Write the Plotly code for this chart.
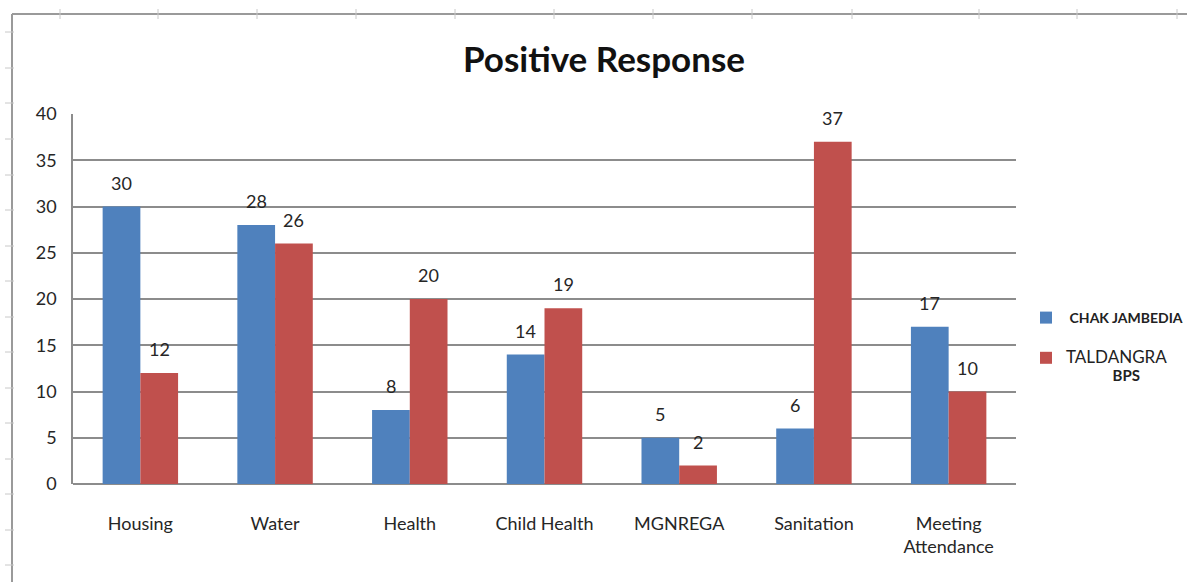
import plotly.graph_objects as go

# Survey results: number of positive responses per theme
categories = ["Housing", "Water", "Health", "Child Health", "MGNREGA", "Sanitation", "Meeting<br>Attendance"]
chak_jambedia = [30, 28, 8, 14, 5, 6, 17]
taldangra_bps = [12, 26, 20, 19, 2, 37, 10]
y_ticks = [0, 5, 10, 15, 20, 25, 30, 35, 40]

BLUE = "#4F81BD"
RED = "#C0504D"
GRID = "#8C8C8C"
FONT = "Lato, 'Open Sans', sans-serif"

W, H = 1187, 582
L, R, T, B = 73, 171, 114, 98
PW, PH = W - L - R, H - T - B


def px_x(px):
    return (px - L) / PW


def px_y(py):
    return (H - B - py) / PH


fig = go.Figure()
fig.add_trace(go.Bar(name="\u00a0<b>CHAK JAMBEDIA</b>", x=categories, y=chak_jambedia,
                     marker=dict(color=BLUE, line=dict(width=0)), legendgroup="a"))
fig.add_trace(go.Bar(name="<span style='font-size:17px'>TALDANGRA</span><br>"
                          "\u00a0\u00a0\u00a0\u00a0\u00a0\u00a0\u00a0\u00a0\u00a0\u00a0\u00a0\u00a0\u00a0"
                          "<span style='font-size:15px'><b>BPS</b></span>",
                     x=categories, y=taldangra_bps,
                     marker=dict(color=RED, line=dict(width=0)), legendgroup="b"))

# value labels above each bar
bar_half = PW / len(categories) * (1 - 0.44) / 4
annotations = []
for vals, shift in ((chak_jambedia, -bar_half), (taldangra_bps, bar_half)):
    for c, v in zip(categories, vals):
        annotations.append(dict(x=c, y=v, xref="x", yref="y", text=str(v), showarrow=False,
                                xshift=shift, yshift=24, font=dict(size=18, color="#262626", family=FONT)))

# sheet border with cell-edge ticks around the chart object
shapes = []
shapes.append(dict(type="line", xref="paper", yref="paper", x0=px_x(12), x1=px_x(W), y0=px_y(14), y1=px_y(14),
                   line=dict(color="#9A9A9A", width=2)))
shapes.append(dict(type="line", xref="paper", yref="paper", x0=px_x(12), x1=px_x(12), y0=px_y(14), y1=px_y(H),
                   line=dict(color="#9A9A9A", width=2)))
column_edges = [60, 158, 257, 356, 455, 554, 653, 752, 852, 979, 1077, 1177]
row_edges = [32, 68, 103, 139, 175, 210, 246, 281, 317, 352, 388, 423, 459, 494, 530, 565]
for cx in column_edges:
    shapes.append(dict(type="line", xref="paper", yref="paper", x0=px_x(cx), x1=px_x(cx), y0=px_y(9), y1=px_y(19),
                       line=dict(color="#C8C8C8", width=1)))
for ry in row_edges:
    shapes.append(dict(type="line", xref="paper", yref="paper", x0=px_x(5), x1=px_x(14), y0=px_y(ry), y1=px_y(ry),
                       line=dict(color="#C8C8C8", width=1)))

fig.update_layout(
    width=W, height=H,
    margin=dict(l=L, r=R, t=T, b=B, pad=0, autoexpand=False),
    paper_bgcolor="white", plot_bgcolor="white",
    barmode="group", bargap=0.44, bargroupgap=0,
    font=dict(family=FONT, color="#262626"),
    title=dict(text="<b>Positive Response</b>", x=604 / W, xanchor="center",
               y=1 - 60 / H, yanchor="middle", font=dict(size=35, color="#111111", family=FONT)),
    showlegend=True,
    legend=dict(x=px_x(1026), y=px_y(302), xanchor="left", yanchor="top",
                font=dict(size=14, color="#222222", family=FONT),
                traceorder="grouped", tracegroupgap=19, valign="top",
                itemwidth=30, bgcolor="rgba(0,0,0,0)"),
    annotations=annotations,
    shapes=shapes,
)
fig.update_xaxes(showgrid=False, showline=False, ticks="", tickfont=dict(size=18, color="#262626"),
                 ticklabelstandoff=27)
fig.update_yaxes(range=[0, 40], tickvals=y_ticks, showgrid=True, gridcolor=GRID, gridwidth=1.5,
                 zeroline=True, zerolinecolor=GRID, zerolinewidth=1.5,
                 showline=True, linecolor=GRID, linewidth=1.5, ticks="",
                 tickfont=dict(size=18, color="#262626"), ticklabelstandoff=11)

fig.write_html("out.html")
